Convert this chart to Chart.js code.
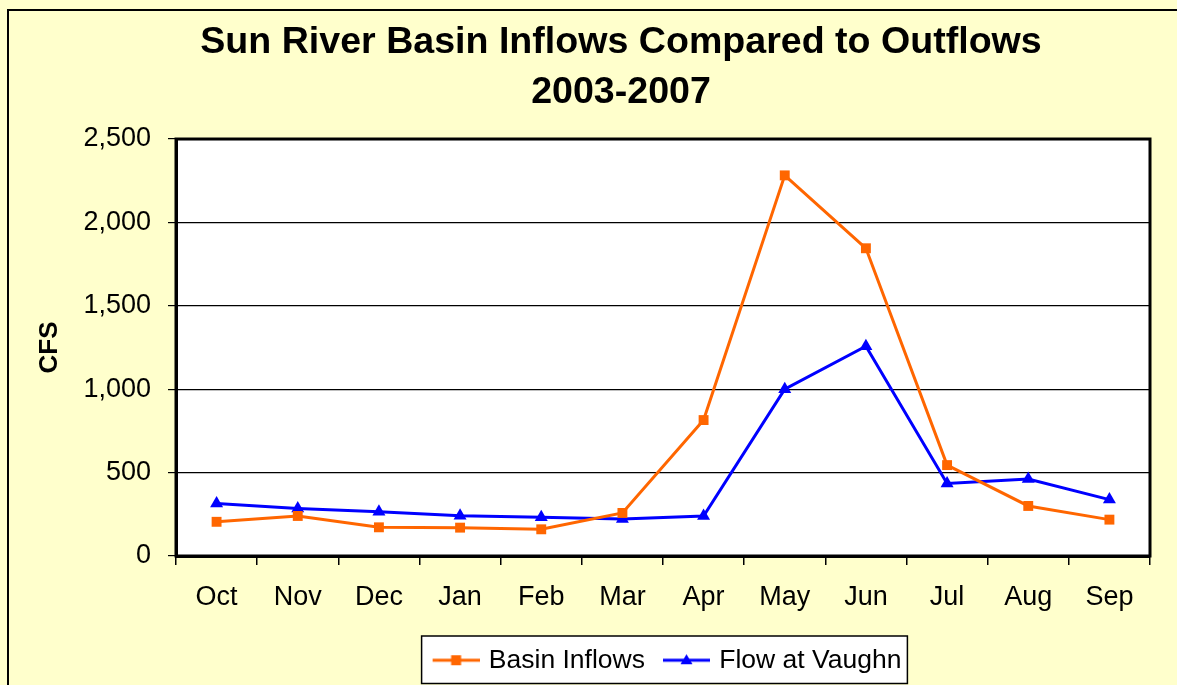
<!DOCTYPE html>
<html>
<head>
<meta charset="utf-8">
<script src="https://cdn.jsdelivr.net/npm/chart.js@4"></script>
<style>
  html, body { margin: 0; padding: 0; background: #fff; }
  #wrap { width: 1177px; height: 685px; }
</style>
</head>
<body>
<div id="wrap"><canvas id="flowChart" width="1177" height="685"></canvas></div>
<script>
const months = ['Oct', 'Nov', 'Dec', 'Jan', 'Feb', 'Mar', 'Apr', 'May', 'Jun', 'Jul', 'Aug', 'Sep'];
const basinInflows = [205, 240, 172, 170, 160, 258, 815, 2282, 1845, 545, 300, 218];
const flowAtVaughn = [315, 285, 265, 242, 232, 222, 240, 1000, 1258, 435, 462, 338];
const titleLines = ['Sun River Basin Inflows Compared to Outflows', '2003-2007'];
const yTicks = [0, 500, 1000, 1500, 2000, 2500];

const ORANGE = '#FF6600';
const BLUE = '#0000FF';
const FONT = "'Liberation Sans', Arial, sans-serif";

// little line + marker pictures for the legend (a bit of blank on the left
// so the items sit further apart, like Excel's legend)
function legendIcon(color, style) {
    const c = document.createElement('canvas');
    c.width = 59;
    c.height = 16;
    const g = c.getContext('2d');
    g.strokeStyle = color;
    g.lineWidth = 3;
    g.beginPath();
    g.moveTo(12, 8);
    g.lineTo(59, 8);
    g.stroke();
    g.fillStyle = color;
    const cx = 35.5;
    if (style === 'rect') {
        g.fillRect(cx - 5, 3, 10, 10);
    } else {
        g.beginPath();
        g.moveTo(cx, 2);
        g.lineTo(cx + 6, 12);
        g.lineTo(cx - 6, 12);
        g.closePath();
        g.fill();
    }
    return c;
}
const icons = [legendIcon(ORANGE, 'rect'), legendIcon(BLUE, 'triangle')];

const framePlugin = {
    id: 'frame',
    afterLayout(chart) {
        // Excel centred the title on a wider chart than the crop
        chart.titleBlock.left = 92;
        chart.titleBlock.right = 1150;
    },
    beforeDraw(chart) {
        const ctx = chart.ctx;
        const a = chart.chartArea;
        ctx.save();
        ctx.fillStyle = '#FFFFCC';
        ctx.fillRect(0, 0, chart.width, chart.height);
        ctx.fillStyle = '#fff';
        ctx.fillRect(a.left, a.top, a.right - a.left, a.bottom - a.top);
        ctx.strokeStyle = '#000';
        ctx.lineWidth = 2;
        ctx.beginPath();
        ctx.moveTo(8, chart.height);
        ctx.lineTo(8, 10);
        ctx.lineTo(chart.width, 10);
        ctx.stroke();

        const hb = chart.legend.legendHitBoxes;
        if (hb && hb.length) {
            const first = hb[0];
            const last = hb[hb.length - 1];
            const x0 = first.left - 3;
            const x1 = last.left + last.width + 6;
            const y0 = first.top - 11;
            const y1 = first.top + first.height + 10;
            ctx.fillStyle = '#fff';
            ctx.fillRect(x0, y0, x1 - x0, y1 - y0);
            ctx.lineWidth = 1.5;
            ctx.strokeRect(x0, y0, x1 - x0, y1 - y0);
        }
        ctx.restore();
    },
    beforeDatasetsDraw(chart) {
        const ctx = chart.ctx;
        const a = chart.chartArea;
        ctx.save();
        ctx.strokeStyle = '#000';
        ctx.lineWidth = 3;
        ctx.strokeRect(a.left, a.top, a.right - a.left, a.bottom - a.top);
        ctx.restore();
    }
};

const ctx = document.getElementById('flowChart').getContext('2d');

const chart = new Chart(ctx, {
    type: 'line',
    data: {
        labels: months,
        datasets: [{
            label: 'Basin Inflows',
            data: basinInflows,
            borderColor: ORANGE,
            backgroundColor: ORANGE,
            borderWidth: 3,
            pointStyle: 'rect',
            pointRadius: 7,
            pointBorderWidth: 0,
            pointBackgroundColor: ORANGE,
            tension: 0
        }, {
            label: 'Flow at Vaughn',
            data: flowAtVaughn,
            borderColor: BLUE,
            backgroundColor: BLUE,
            borderWidth: 3,
            pointStyle: 'triangle',
            pointRadius: 7.5,
            pointBorderWidth: 0,
            pointBackgroundColor: BLUE,
            tension: 0
        }]
    },
    options: {
        responsive: false,
        animation: false,
        layout: {
            padding: { left: 10, right: 27, top: 10, bottom: 1.5 }
        },
        plugins: {
            title: {
                display: true,
                text: titleLines,
                color: '#000',
                font: { family: FONT, size: 37.6, weight: 'bold', lineHeight: 1.33 },
                padding: { top: 8, bottom: 21 }
            },
            legend: {
                display: true,
                position: 'bottom',
                fullSize: false,
                labels: {
                    color: '#000',
                    font: { family: FONT, size: 26.5 },
                    usePointStyle: true,
                    pointStyleWidth: 51,
                    padding: 10,
                    generateLabels: (c) => {
                        const items = Chart.defaults.plugins.legend.labels.generateLabels(c);
                        items.forEach((it, i) => { it.pointStyle = icons[i]; });
                        return items;
                    }
                }
            },
            tooltip: { enabled: false }
        },
        scales: {
            x: {
                offset: true,
                grid: {
                    display: true,
                    offset: true,
                    drawOnChartArea: false,
                    drawTicks: true,
                    tickLength: 9,
                    tickColor: '#000',
                    lineWidth: 1.5
                },
                border: { display: true, color: '#000', width: 3 },
                ticks: {
                    color: '#000',
                    font: { family: FONT, size: 27 },
                    padding: 16,
                    maxRotation: 0
                },
                afterFit: (scale) => { scale.height = 81; }
            },
            y: {
                min: 0,
                max: 2500,
                afterBuildTicks: (scale) => { scale.ticks = yTicks.map(v => ({ value: v })); },
                grid: {
                    color: '#000',
                    lineWidth: 1.2,
                    drawTicks: true,
                    tickLength: 8,
                    tickColor: '#000'
                },
                border: { display: true, color: '#000', width: 3 },
                ticks: {
                    color: '#000',
                    font: { family: FONT, size: 27 },
                    padding: 17,
                    callback: (v) => v.toLocaleString('en-US')
                },
                title: {
                    display: true,
                    text: 'CFS',
                    color: '#000',
                    font: { family: FONT, size: 26, weight: 'bold' },
                    padding: { top: 24, bottom: 0 }
                },
                afterFit: (scale) => { scale.width = 166; }
            }
        }
    },
    plugins: [framePlugin]
});
</script>
</body>
</html>
